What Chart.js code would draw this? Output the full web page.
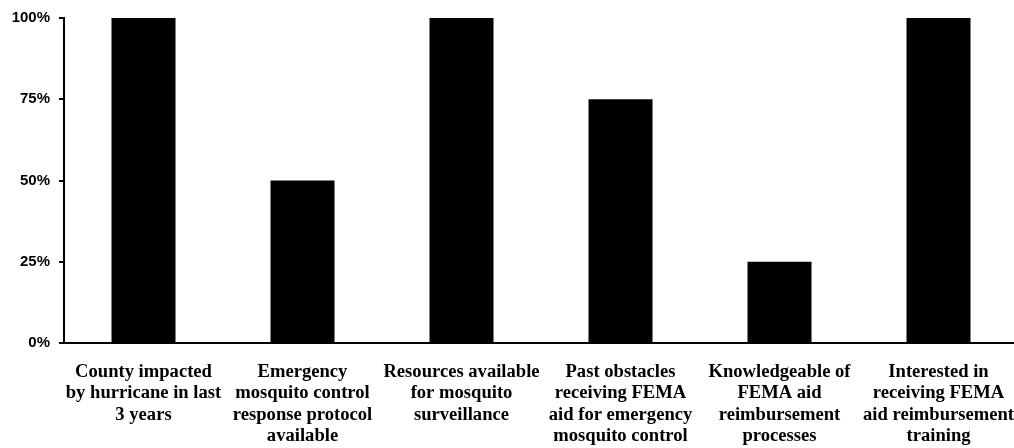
<!DOCTYPE html>
<html>
<head>
<meta charset="utf-8">
<script src="https://cdn.jsdelivr.net/npm/chart.js@4"></script>
<style>
  html, body { margin: 0; padding: 0; background: #fff; overflow: hidden; }
  #wrap { width: 1032px; height: 448px; position: relative; }
</style>
</head>
<body>
<div id="wrap"><canvas id="surveyChart"></canvas></div>
<script>
const categories = [
    ['County impacted', 'by hurricane in last', '3 years'],
    ['Emergency', 'mosquito control', 'response protocol', 'available'],
    ['Resources available', 'for mosquito', 'surveillance'],
    ['Past obstacles', 'receiving FEMA', 'aid for emergency', 'mosquito control'],
    ['Knowledgeable of', 'FEMA aid', 'reimbursement', 'processes'],
    ['Interested in', 'receiving FEMA', 'aid reimbursement', 'training']
];
const percentYes = [100, 50, 100, 75, 25, 100];
const yTicks = [0, 25, 50, 75, 100];

const ctx = document.getElementById('surveyChart').getContext('2d');
const surveyChart = new Chart(ctx, {
    type: 'bar',
    data: {
        labels: categories,
        datasets: [{
            data: percentYes,
            backgroundColor: '#000',
            borderWidth: 0,
            barPercentage: 0.4025,
            categoryPercentage: 1
        }]
    },
    options: {
        responsive: true,
        maintainAspectRatio: false,
        animation: false,
        layout: { padding: { top: 17, left: 0, right: 0, bottom: 0 } },
        plugins: {
            legend: { display: false },
            tooltip: { enabled: false }
        },
        scales: {
            x: {
                grid: { display: true, drawOnChartArea: false, drawTicks: false },
                border: { display: true, color: '#000', width: 2 },
                ticks: {
                    color: '#000',
                    maxRotation: 0,
                    autoSkip: false,
                    padding: 18,
                    font: { family: '"Liberation Serif", "Times New Roman", serif', size: 18.6, weight: 'bold', lineHeight: 1.16 }
                },
                afterFit: (scale) => { scale.height = 105; }
            },
            y: {
                min: 0,
                max: 100,
                afterBuildTicks: (scale) => { scale.ticks = yTicks.map(v => ({ value: v })); },
                grid: { display: true, drawOnChartArea: false, drawTicks: true, tickLength: 5, color: '#000', lineWidth: 2 },
                border: { display: true, color: '#000', width: 2 },
                ticks: {
                    color: '#000',
                    padding: 9,
                    font: { family: '"Liberation Sans", Arial, sans-serif', size: 15, weight: 'bold' },
                    callback: (v) => v + '%'
                },
                afterFit: (scale) => { scale.width = 64; }
            }
        }
    }
});
</script>
</body>
</html>
